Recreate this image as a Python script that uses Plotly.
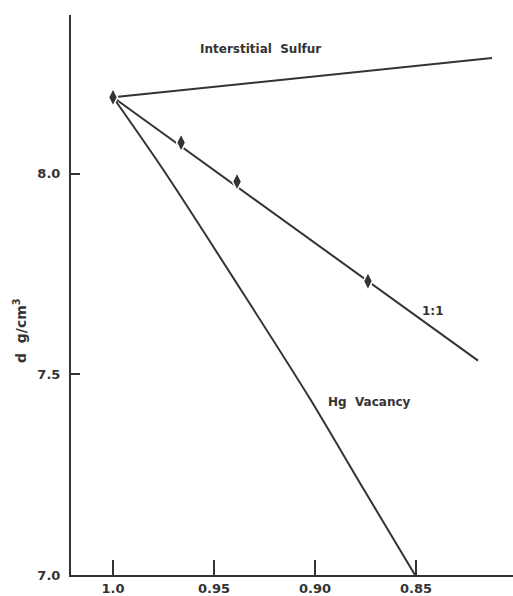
import plotly.graph_objects as go

# Measured densities along the 1:1 series
x_meas = [1.0, 0.9663, 0.9386, 0.8738]
d_meas = [8.19, 8.077, 7.98, 7.732]

# Model lines
x_one = [1.0, 0.8193]
d_one = [8.19, 7.534]

x_sulfur = [1.0, 0.8124]
d_sulfur = [8.19, 8.288]

x_vac = [1.0, 0.9752, 0.9337, 0.9025, 0.8762, 0.8505]
d_vac = [8.19, 8.010, 7.687, 7.439, 7.216, 7.0]

x_ticks = [1.0, 0.95, 0.90, 0.85]
x_ticktext = ["1.0", "0.95", "0.90", "0.85"]
y_ticks = [7.0, 7.5, 8.0]
y_ticktext = ["7.0", "7.5", "8.0"]

ink = "#333333"
font = "DejaVu Sans"

fig = go.Figure()
line = dict(color=ink, width=2)
fig.add_trace(go.Scatter(x=x_sulfur, y=d_sulfur, mode="lines", line=line))
fig.add_trace(go.Scatter(x=x_vac, y=d_vac, mode="lines",
                         line=dict(color=ink, width=2, shape="spline", smoothing=0.8)))
fig.add_trace(go.Scatter(x=x_one, y=d_one, mode="lines", line=line))
fig.add_trace(go.Scatter(
    x=x_meas, y=d_meas, mode="markers",
    marker=dict(symbol="diamond-tall", size=13, color=ink, line=dict(color="white", width=1.5)),
))

labels = [
    ("Interstitial  Sulfur", 0.927, 8.31),
    ("1:1", 0.8416, 7.658),
    ("Hg  Vacancy", 0.8728, 7.432),
]
for text, lx, ly in labels:
    fig.add_annotation(x=lx, y=ly, text=text, showarrow=False,
                       font=dict(family=font, size=12, color=ink, weight="bold"))

fig.add_annotation(xref="paper", yref="paper", x=-0.115, y=0.436,
                   xanchor="center", yanchor="middle",
                   text="d  g/cm<sup>3</sup>", textangle=-90, showarrow=False,
                   font=dict(family=font, size=14, color=ink, weight="bold"))

tick_font = dict(family=font, size=13, color=ink, weight="bold")
fig.update_xaxes(range=[1.0208, 0.802], tickvals=x_ticks, ticktext=x_ticktext,
                 ticks="inside", ticklen=15, tickwidth=2, tickcolor=ink,
                 showline=True, linecolor=ink, linewidth=2, showgrid=False, zeroline=False,
                 tickfont=tick_font)
fig.update_yaxes(range=[7.0, 8.395], tickvals=y_ticks, ticktext=y_ticktext,
                 ticks="inside", ticklen=9, tickwidth=2, tickcolor=ink,
                 showline=True, linecolor=ink, linewidth=2, showgrid=False, zeroline=False,
                 ticklabelstandoff=6,
                 tickfont=tick_font)

fig.update_layout(
    width=513, height=596,
    margin=dict(l=71, r=0, t=15, b=19),
    paper_bgcolor="white", plot_bgcolor="white",
    showlegend=False,
)

fig.write_html("out.html")
